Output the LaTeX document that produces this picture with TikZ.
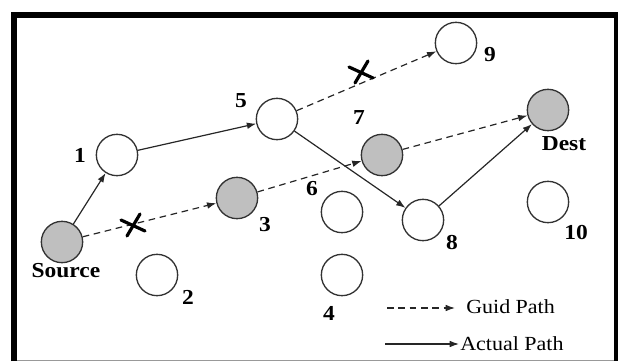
\documentclass[tikz,border=0pt]{standalone}
\usepackage{fontspec}
\setmainfont{Liberation Serif}[FakeStretch=1.1]
\usepackage{tikz}
\usetikzlibrary{arrows.meta, positioning}
\definecolor{gris}{HTML}{BFBFBF}
\tikzset{
  nodo/.style={circle, draw=black!80, line width=1pt, fill=white, minimum size=31pt, inner sep=0pt},
  relleno/.style={nodo, fill=gris},
  rotulo/.style={font=\fontsize{16}{19}\selectfont\bfseries, inner sep=0pt},
  leyenda/.style={font=\fontsize{15}{18}\selectfont, inner sep=0pt, anchor=west},
  real/.style={-{Latex[length=7pt, width=5pt]}, line width=0.9pt, color=black!85},
  guia/.style={real, dash pattern=on 5pt off 3.5pt},
  cruz/.style={line width=2.4pt, line cap=round},
}

\begin{document}
\begin{tikzpicture}[x=0.75pt, y=-0.75pt]
  \useasboundingbox (0,0) rectangle (619,362);
  % marco
  \draw[black!40, line width=0.8pt] (14,360.5) -- (616,360.5);
  \draw[line width=3pt] (616,12) -- (616,361);
  \draw[line width=5pt] (14,361) -- (14,15) -- (618,15);

  % nodos
  \node[relleno] (src) at (62,242) {};
  \node[nodo] (n1) at (117,155) {};
  \node[nodo] (n2) at (157,275) {};
  \node[relleno] (n3) at (237,198) {};
  \node[nodo] (n4) at (342,275) {};
  \node[nodo] (n5) at (277,119) {};
  \node[nodo] (n6) at (342,212) {};
  \node[relleno] (n7) at (382,155) {};
  \node[nodo] (n8) at (423,220) {};
  \node[nodo] (n9) at (456,43) {};
  \node[relleno] (dst) at (548,110) {};
  \node[nodo] (n10) at (548,202) {};

  % rotulos
  \node[rotulo] (l1) at (80,155) {1};
  \node[rotulo] (l2) at (188,297) {2};
  \node[rotulo] (l3) at (265,225) {3};
  \node[rotulo] (l4) at (329,313) {4};
  \node[rotulo] (l5) at (241,101) {5};
  \node[rotulo] (l6) at (312,189) {6};
  \node[rotulo] (l7) at (359,118) {7};
  \node[rotulo] (l8) at (452,243) {8};
  \node[rotulo] (l9) at (490,55) {9};
  \node[rotulo] (l10) at (576,233) {10};
  \node[rotulo] (lsrc) at (66,271) {Source};
  \node[rotulo] (ldst) at (564,144) {Dest};

  % camino real
  \draw[real] (src) -- (n1);
  \draw[real] (n1) -- (n5);
  \draw[real] (n5) -- (n8);
  \draw[real] (n8) -- (dst);

  % camino guia
  \draw[guia] (src) -- (n3);
  \draw[guia] (n3) -- (n7);
  \draw[guia] (n7) -- (dst);
  \draw[guia] (n5) -- (n9);

  % enlaces cortados
  \coordinate (x1) at (133,225);
  \coordinate (x2) at (361,72);
  \foreach \c in {x1,x2} {
    \draw[cruz] ([shift={(7,-11)}]\c) -- ([shift={(-6,11)}]\c);
    \draw[cruz] ([shift={(-12,-5)}]\c) -- ([shift={(12,6)}]\c);
  }

  % leyenda
  \coordinate (g0) at (387,308);
  \coordinate (g1) at (455,308);
  \coordinate (a0) at (385,344);
  \coordinate (a1) at (459,344);
  \draw[guia] (g0) -- (g1);
  \draw[real] (a0) -- (a1);
  \node[leyenda] (tg) at (466,307) {Guid Path};
  \node[leyenda] (ta) at (460,344) {Actual Path};
\end{tikzpicture}
\end{document}
